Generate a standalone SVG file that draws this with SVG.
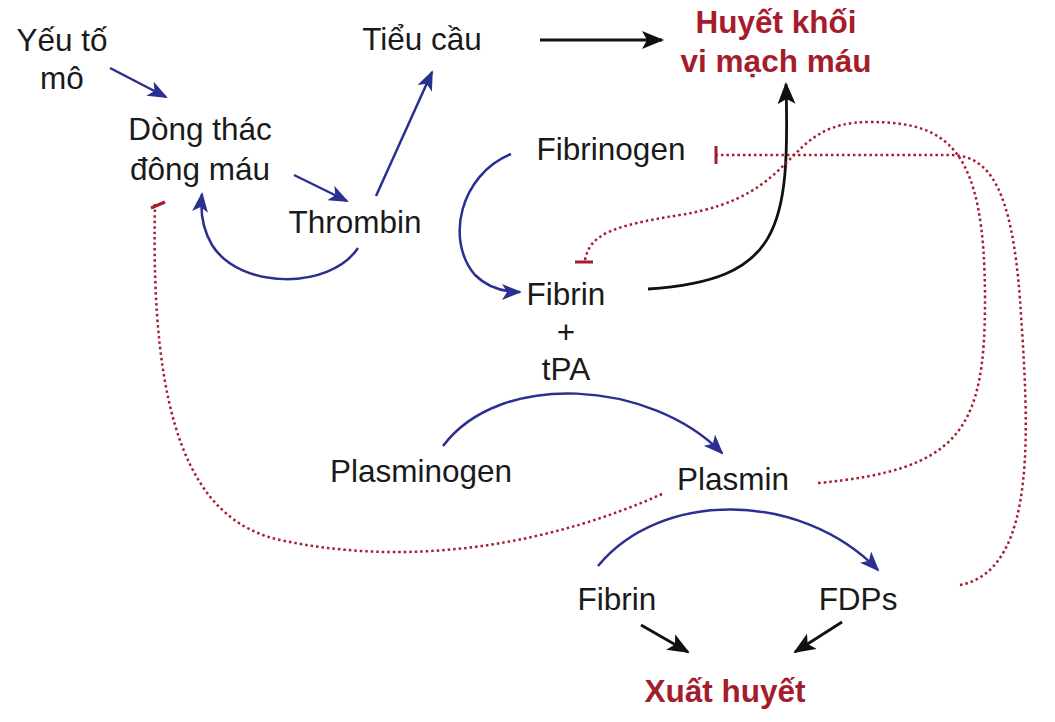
<svg xmlns="http://www.w3.org/2000/svg" width="1055" height="722" viewBox="0 0 1055 722">
<style>
text{font-family:"Liberation Sans",Arial,sans-serif;font-size:31.5px;fill:#1a1a1a;text-anchor:middle}
.red{fill:#a51d2d;font-weight:bold}
.b{stroke:#2b2f8f;stroke-width:2.5;fill:none;marker-end:url(#ab)}
.k{stroke:#111;stroke-width:2.8;fill:none;marker-end:url(#ak)}
.d{stroke:#a51d2d;stroke-width:2.5;fill:none;stroke-dasharray:2.5 3}
.t{stroke:#a51d2d;stroke-width:3;fill:none}
</style>
<defs>
<marker id="ab" viewBox="0 0 20 16" refX="18" refY="8" markerWidth="20" markerHeight="16" orient="auto" markerUnits="userSpaceOnUse"><path d="M0,0 L20,8 L0,16 L5,8z" fill="#2b2f8f"/></marker>
<marker id="ak" viewBox="0 0 22 18" refX="20" refY="9" markerWidth="22" markerHeight="18" orient="auto" markerUnits="userSpaceOnUse"><path d="M0,0 L22,9 L0,18 L5,9z" fill="#111"/></marker>
</defs>
<rect width="1055" height="722" fill="#fff"/>
<g id="yeuto"><text x="62" y="51">Yếu tố</text><text x="62" y="89">mô</text></g>
<g id="dongthac"><text x="200" y="140">Dòng thác</text><text x="200" y="180">đông máu</text></g>
<g id="thrombin"><text x="355" y="233">Thrombin</text></g>
<g id="tieucau"><text x="422" y="50">Tiểu cầu</text></g>
<g id="huyetkhoi"><text class="red" x="776" y="33">Huyết khối</text><text class="red" x="776" y="72">vi mạch máu</text></g>
<g id="fibrinogen"><text x="611" y="160">Fibrinogen</text></g>
<g id="fibrin1"><text x="566" y="305">Fibrin</text><text x="566" y="343">+</text><text x="566" y="380">tPA</text></g>
<g id="plasminogen"><text x="421" y="482">Plasminogen</text></g>
<g id="plasmin"><text x="733" y="490">Plasmin</text></g>
<g id="fibrin2"><text x="617" y="610">Fibrin</text></g>
<g id="fdps"><text x="858" y="610">FDPs</text></g>
<g id="xuathuyet"><text class="red" x="725" y="702">Xuất huyết</text></g>
<g id="connectors">
<path class="b" d="M110,68 L166,97"/>
<path class="b" d="M294,175 L347,201"/>
<path class="b" d="M376,196 L432,72"/>
<path class="k" d="M540,40 L662,40"/>
<path class="b" d="M358,248 C330,290 240,290 212,245 C202,228 200,212 202,194"/>
<path class="b" d="M511,154 C460,175 445,240 475,275 C488,288 505,292 520,292"/>
<path class="k" d="M648,289 C780,280 790,230 786,84"/>
<path class="b" d="M443,446 C500,370 650,380 722,453"/>
<path class="b" d="M598,566 C660,490 800,490 878,570"/>
<path class="k" d="M641,625 L688,652"/>
<path class="k" d="M842,622 L795,652"/>
<path class="d" d="M818,483 C960,470 985,430 985,300 C985,150 950,122 870,122 C780,122 805,195 680,215 C610,226 590,235 585,260"/>
<path class="t" d="M575,262 L593,262"/>
<path class="d" d="M960,585 C1040,570 1028,420 1020,300 C1012,190 990,155 950,155 L716,155"/>
<path class="t" d="M716,146 L716,164"/>
<path class="d" d="M662,494 C560,540 420,570 280,540 C190,520 150,420 155,204"/>
<path class="t" d="M151,208 L165,202"/>
</g>
</svg>
